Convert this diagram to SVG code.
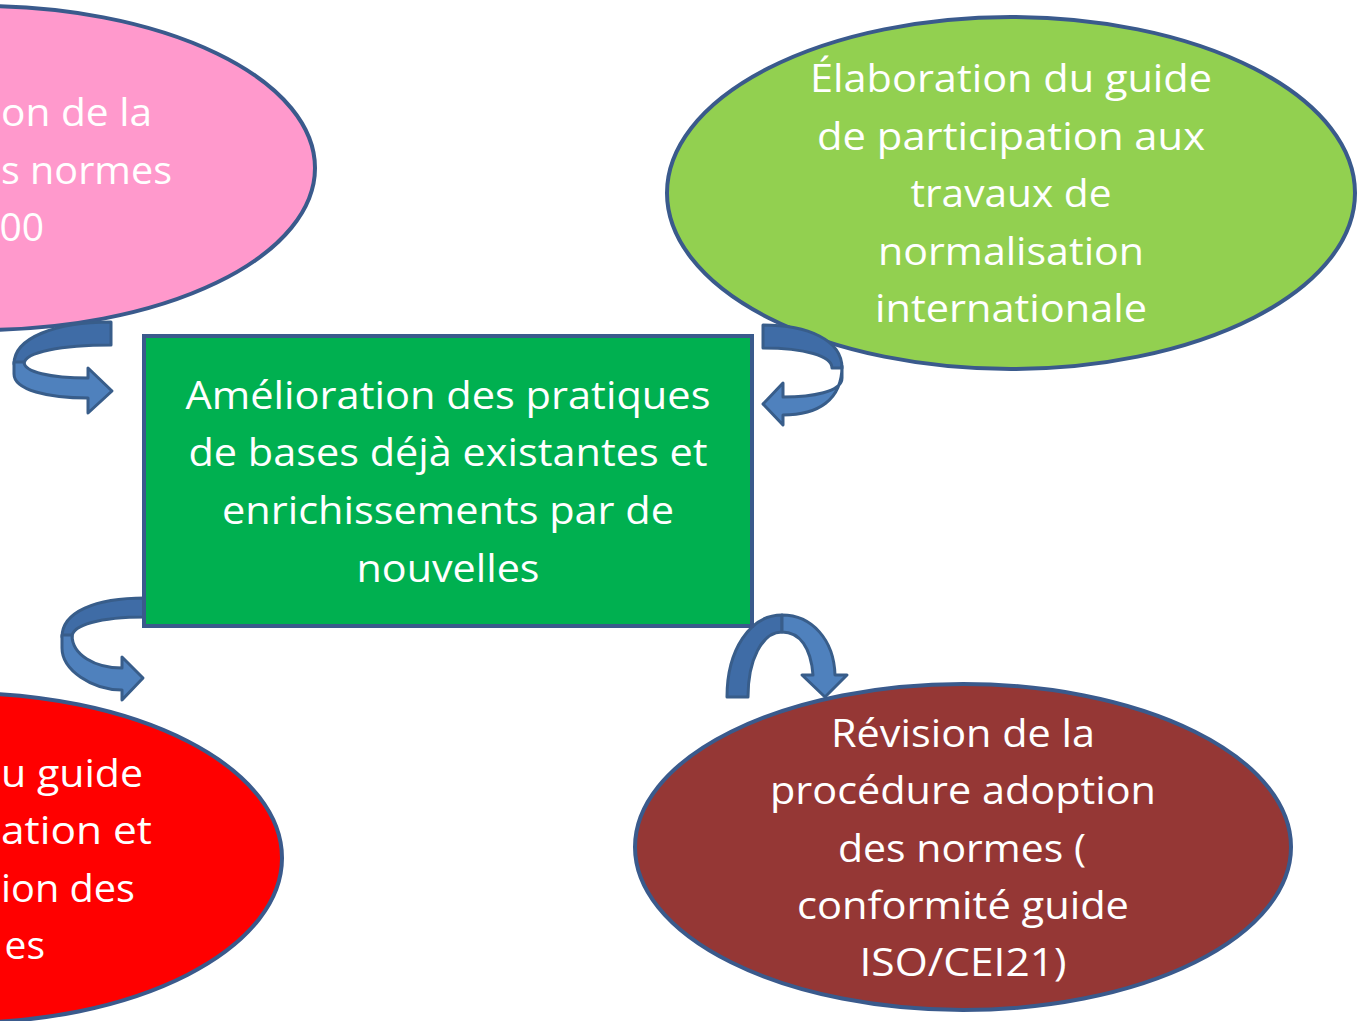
<svg xmlns="http://www.w3.org/2000/svg" width="1359" height="1021" viewBox="0 0 1359 1021">
<style>
.n{stroke:#3A5A8C;stroke-width:4}
.t{font-family:"Open Sans",Lato,"Liberation Sans",sans-serif;font-size:39px;fill:#fff;font-variant-ligatures:none}
.c{text-anchor:middle}
.e{text-anchor:end}
.ab{fill:#3F6CA6;stroke:#385D8A;stroke-width:3;stroke-linejoin:round}
.af{fill:#4F81BD;stroke:#385D8A;stroke-width:3;stroke-linejoin:round}
</style>
<rect width="1359" height="1021" fill="#fff"/>
<g id="node-pink">
<ellipse class="n" cx="-20" cy="168" rx="335" ry="162" fill="#FF99CC"/>
<text class="t" x="1" y="126" textLength="151" lengthAdjust="spacingAndGlyphs">on de la</text>
<text class="t" x="1" y="184" textLength="171" lengthAdjust="spacingAndGlyphs">s normes</text>
<text class="t e" x="44" y="241">00</text>
</g>
<g id="node-lightgreen">
<ellipse class="n" cx="1011" cy="193" rx="344" ry="176" fill="#92D050"/>
<text class="t c" x="1011" y="92" textLength="402" lengthAdjust="spacingAndGlyphs">Élaboration du guide</text>
<text class="t c" x="1011" y="150" textLength="388" lengthAdjust="spacingAndGlyphs">de participation aux</text>
<text class="t c" x="1011" y="207" textLength="201" lengthAdjust="spacingAndGlyphs">travaux de</text>
<text class="t c" x="1011" y="265" textLength="266" lengthAdjust="spacingAndGlyphs">normalisation</text>
<text class="t c" x="1011" y="322" textLength="272" lengthAdjust="spacingAndGlyphs">internationale</text>
</g>
<g id="node-red">
<ellipse class="n" cx="-40" cy="858" rx="322" ry="165" fill="#FF0000"/>
<text class="t" x="1" y="787" textLength="142" lengthAdjust="spacingAndGlyphs">u guide</text>
<text class="t" x="1" y="844" textLength="151" lengthAdjust="spacingAndGlyphs">ation et</text>
<text class="t" x="1" y="902" textLength="134" lengthAdjust="spacingAndGlyphs">ion des</text>
<text class="t e" x="45" y="959">es</text>
</g>
<g id="node-brown">
<ellipse class="n" cx="963" cy="847" rx="328" ry="163" fill="#953735"/>
<text class="t c" x="963" y="747" textLength="264" lengthAdjust="spacingAndGlyphs">Révision de la</text>
<text class="t c" x="963" y="804" textLength="386" lengthAdjust="spacingAndGlyphs">procédure adoption</text>
<text class="t c" x="962" y="862" textLength="248" lengthAdjust="spacingAndGlyphs">des normes (</text>
<text class="t c" x="963" y="919" textLength="332" lengthAdjust="spacingAndGlyphs">conformité guide</text>
<text class="t c" x="963" y="976" textLength="207" lengthAdjust="spacingAndGlyphs">ISO/CEI21)</text>
</g>
<g id="connectors">
<g id="arrow-tl">
<path class="ab" d="M111 322 L111 345 C62 345 24 352 24 364 L14 364 C14 338 55 322 111 322 Z"/>
<path class="af" d="M14 362 L14 374 C14 390 48 398 88 398 L88 413 L112 391 L88 368 L88 378 C50 378 24 372 24 362 Z"/>
</g>
<g id="arrow-tr">
<path class="ab" d="M763 325 L763 348 C805 348 832 356 832 368 L842 368 C842 340 808 325 763 325 Z"/>
<path class="af" d="M842 366 L842 378 C842 392 812 397 783 397 L783 383 L763 404 L783 425 L783 415 C818 415 842 400 842 366 Z"/>
</g>
<g id="arrow-bl">
<path class="ab" d="M145 598 L145 617 C100 617 72 625 72 637 L62 637 C62 612 95 598 145 598 Z"/>
<path class="af" d="M62 635 L62 648 C62 670 92 690 122 690 L122 700 L143 678 L122 657 L122 668 C95 668 72 655 72 635 Z"/>
</g>
<g id="arrow-br">
<path class="ab" d="M727 697 L748 697 C748 660 762 632 782 632 L782 615 C750 615 727 650 727 697 Z"/>
<path class="af" d="M782 615 C812 615 834 640 835 675 L847 675 L825 697 L802 675 L813 675 C811 648 800 632 782 632 Z"/>
</g>
</g>
<g id="node-center">
<rect class="n" x="144" y="336" width="608" height="290" fill="#00B050"/>
<text class="t c" x="448" y="409" textLength="525" lengthAdjust="spacingAndGlyphs">Amélioration des pratiques</text>
<text class="t c" x="448" y="466" textLength="519" lengthAdjust="spacingAndGlyphs">de bases déjà existantes et</text>
<text class="t c" x="448" y="524" textLength="452" lengthAdjust="spacingAndGlyphs">enrichissements par de</text>
<text class="t c" x="448" y="582" textLength="183" lengthAdjust="spacingAndGlyphs">nouvelles</text>
</g>
</svg>
